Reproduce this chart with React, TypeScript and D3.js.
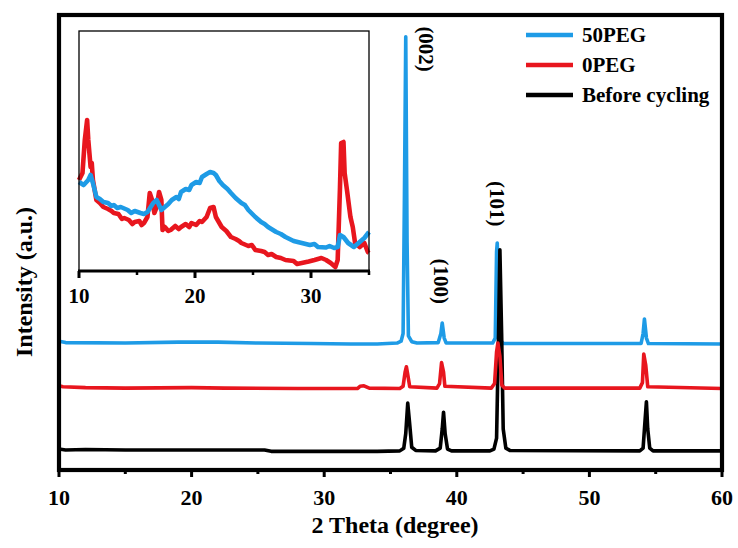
import React from "react";
import * as d3 from "d3";

// ---------- data ----------
const beforeCycling: [number, number][] = [
  [10, 46], [10.5, 44], [12, 45], [15, 44], [18, 44], [22, 44], [25.5, 44], [26, 41], [30, 41], [34, 41],
  [35.7, 42], [36.0, 48], [36.15, 80], [36.3, 147], [36.45, 100], [36.6, 50], [36.9, 43],
  [38.4, 42], [38.75, 48], [38.9, 90], [39.0, 127], [39.12, 80], [39.3, 46], [39.6, 42],
  [42.5, 42], [42.8, 46], [43.0, 70], [43.15, 300], [43.25, 484], [43.38, 300], [43.5, 90], [43.7, 48], [44.0, 43],
  [53.8, 42], [54.05, 48], [54.2, 110], [54.3, 150], [54.4, 90], [54.55, 48], [54.8, 42], [60, 42],
];
const peg0: [number, number][] = [
  [10, 185], [10.3, 183], [12, 181], [15, 180], [20, 181], [22.5, 180], [28, 179], [32.5, 179], [32.7, 184], [33.0, 185],
  [33.4, 180], [35.7, 179], [35.95, 184], [36.1, 215], [36.2, 227], [36.3, 210], [36.45, 183],
  [38.5, 180], [38.7, 190], [38.85, 236], [39.0, 215], [39.1, 184],
  [42.6, 180], [42.85, 190], [43.0, 260], [43.1, 279], [43.25, 250], [43.4, 186], [43.6, 180],
  [53.8, 180], [54.0, 192], [54.1, 255], [54.25, 230], [54.4, 183], [60, 179],
];
const peg50: [number, number][] = [
  [10, 283], [10.5, 280], [15, 279], [19, 281], [22, 281], [25, 279], [29, 278], [32, 277], [34, 277],
  [35.5, 279], [35.8, 283], [35.95, 300], [36.05, 600], [36.15, 952], [36.25, 500], [36.35, 295], [36.6, 282], [37, 279],
  [38.6, 280], [38.8, 300], [38.9, 323], [39.05, 290], [39.2, 279],
  [42.7, 279], [42.9, 290], [43.0, 480], [43.05, 499], [43.15, 400], [43.3, 285], [43.5, 278],
  [53.9, 278], [54.05, 300], [54.15, 332], [54.3, 290], [54.45, 278], [60, 277],
];

const insetPeg0: [number, number][] = [
  [10.0, 910], [10.3, 980], [10.5, 1310], [10.7, 1510], [10.8, 1310], [11.0, 1040], [11.1, 1080], [11.2, 910],
  [11.5, 710], [11.8, 680], [12.1, 640], [12.5, 620], [12.8, 600], [13.0, 580], [13.4, 570], [13.7, 520], [13.9, 530],
  [14.3, 510], [14.6, 470], [14.8, 490], [15.2, 500], [15.4, 460], [15.6, 480], [15.9, 540], [16.1, 780], [16.3, 710],
  [16.5, 580], [16.7, 640], [16.9, 790], [17.1, 710], [17.2, 410], [17.4, 440], [17.7, 400], [17.9, 410], [18.3, 450],
  [18.6, 420], [18.8, 440], [19.2, 470], [19.5, 440], [19.7, 480], [20.1, 460], [20.4, 500], [20.6, 490], [21.0, 540],
  [21.3, 630], [21.6, 640], [21.8, 540], [22.3, 440], [22.7, 400], [23.1, 340], [23.5, 320], [23.8, 300], [24.0, 280],
  [24.6, 250], [24.9, 260], [25.2, 210], [25.7, 200], [26.0, 190], [26.3, 160], [26.6, 170], [27.0, 140], [27.4, 130],
  [27.8, 110], [28.5, 100], [28.8, 70], [29.2, 80], [29.8, 95], [30.3, 110], [30.9, 130], [31.3, 110], [31.7, 80],
  [32.1, 40], [32.3, 110], [32.5, 840], [32.6, 1280], [32.8, 1290], [32.9, 980], [33.1, 810], [33.4, 540], [33.6, 440],
  [33.8, 280], [34.2, 240], [34.6, 280], [34.9, 190], [35.0, 180],
];
const insetPeg50: [number, number][] = [
  [10.0, 890], [10.4, 860], [10.8, 910], [11.0, 960], [11.2, 880], [11.5, 740], [11.8, 720], [12.1, 690], [12.5, 680],
  [12.8, 650], [13.0, 660], [13.3, 630], [13.6, 640], [14.2, 610], [14.5, 580], [14.8, 600], [15.3, 580], [15.6, 570],
  [15.9, 590], [16.4, 680], [16.7, 710], [17.1, 610], [17.4, 640], [17.7, 670], [18.0, 710], [18.4, 740], [18.6, 720],
  [18.8, 790], [19.2, 820], [19.5, 810], [19.7, 860], [20.1, 890], [20.4, 880], [20.6, 940], [21.0, 970], [21.3, 990],
  [21.6, 980], [21.8, 960], [22.1, 900], [22.4, 860], [22.8, 820], [23.1, 780], [23.5, 730], [24.0, 680], [24.3, 660],
  [24.6, 610], [25.2, 540], [25.7, 490], [26.0, 470], [26.3, 440], [27.0, 390], [27.4, 370], [27.8, 340], [28.5, 300],
  [29.2, 280], [29.9, 260], [30.3, 270], [30.6, 240], [31.3, 235], [31.6, 250], [32.0, 230], [32.3, 240], [32.5, 360],
  [32.8, 340], [33.2, 280], [33.7, 240], [34.1, 280], [34.6, 330], [35.0, 390],
];

const xTicks = [10, 20, 30, 40, 50, 60];
const xMinorTicks = [15, 25, 35, 45, 55];
const insetTicks = [10, 20, 30];
const insetMinorTicks = [15, 25, 35];

const peakLabels = ["(002)", "(100)", "(101)"];
const peakLabelX = [37.68, 38.81, 43.03];
const peakLabelY = [925, 415, 585];

const legendNames = ["50PEG", "0PEG", "Before cycling"];
const seriesColors = ["#1E9BE6", "#E8161E", "#000000"];

const xTitle = "2 Theta (degree)";
const yTitle = "Intensity (a.u.)";

// ---------- layout ----------
const W = 738, H = 548;
const FONT = "'Liberation Serif', 'Times New Roman', serif";

export default function App() {
  const x = d3.scaleLinear().domain([10, 60]).range([59, 722]);
  const y = d3.scaleLinear().domain([0, 1000]).range([470, 15]);
  const line = d3.line<[number, number]>().x((d) => x(d[0])).y((d) => y(d[1]));

  const ix = d3.scaleLinear().domain([10, 35]).range([79, 369]);
  const iy = d3.scaleLinear().domain([0, 2400]).range([271, 31]);
  const iline = d3.line<[number, number]>().x((d) => ix(d[0])).y((d) => iy(d[1]));

  const mainOrder: { data: [number, number][]; color: string }[] = [
    { data: peg50, color: seriesColors[0] },
    { data: beforeCycling, color: seriesColors[2] },
    { data: peg0, color: seriesColors[1] },
  ];

  return (
    <svg width={W} height={H} style={{ position: "absolute", left: 0, top: 0, background: "#fff" }} fontFamily={FONT}>
      <rect x={0} y={0} width={W} height={H} fill="#fff" />
      {/* main series */}
      {mainOrder.map((s, i) => (
        <path key={i} d={line(s.data) || ""} fill="none" stroke={s.color} strokeWidth={3.6} strokeLinejoin="round" />
      ))}

      {/* main frame */}
      <rect x={59} y={15} width={663} height={455} fill="none" stroke="#000" strokeWidth={4.2} />
      {xTicks.map((t) => (
        <g key={t}>
          <line x1={x(t)} x2={x(t)} y1={470} y2={477} stroke="#000" strokeWidth={3} />
          <text x={x(t)} y={505} textAnchor="middle" fontSize={22} fontWeight="bold">{t}</text>
        </g>
      ))}
      {xMinorTicks.map((t) => (
        <line key={t} x1={x(t)} x2={x(t)} y1={470} y2={474} stroke="#000" strokeWidth={3} />
      ))}
      <text x={395} y={533} textAnchor="middle" fontSize={24} fontWeight="bold">{xTitle}</text>
      <text transform="translate(32,282) rotate(-90)" textAnchor="middle" fontSize={24} fontWeight="bold">{yTitle}</text>

      {/* peak labels */}
      {peakLabels.map((l, i) => (
        <text key={l} transform={`translate(${x(peakLabelX[i])},${y(peakLabelY[i])}) rotate(90)`} textAnchor="middle"
          dy="0.35em" fontSize={21} fontWeight="bold">{l}</text>
      ))}

      {/* legend */}
      {legendNames.map((n, i) => (
        <g key={n}>
          <line x1={526} x2={573} y1={35 + i * 30} y2={35 + i * 30} stroke={seriesColors[i]} strokeWidth={4.5} />
          <text x={582} y={42 + i * 30} fontSize={21} fontWeight="bold">{n}</text>
        </g>
      ))}

      {/* inset */}
      <path d={iline(insetPeg0) || ""} fill="none" stroke={seriesColors[1]} strokeWidth={4.6} strokeLinejoin="round" />
      <path d={iline(insetPeg50) || ""} fill="none" stroke={seriesColors[0]} strokeWidth={4.6} strokeLinejoin="round" />
      <rect x={79} y={31} width={290} height={240} fill="none" stroke="#000" strokeWidth={1.3} />
      <line x1={78} x2={370} y1={271} y2={271} stroke="#000" strokeWidth={3} />
      {insetTicks.map((t) => (
        <g key={t}>
          <line x1={ix(t)} x2={ix(t)} y1={271} y2={278} stroke="#000" strokeWidth={3} />
          <text x={ix(t)} y={303} textAnchor="middle" fontSize={21} fontWeight="bold">{t}</text>
        </g>
      ))}
      {insetMinorTicks.map((t) => (
        <line key={t} x1={ix(t)} x2={ix(t)} y1={271} y2={275} stroke="#000" strokeWidth={2.5} />
      ))}
    </svg>
  );
}
